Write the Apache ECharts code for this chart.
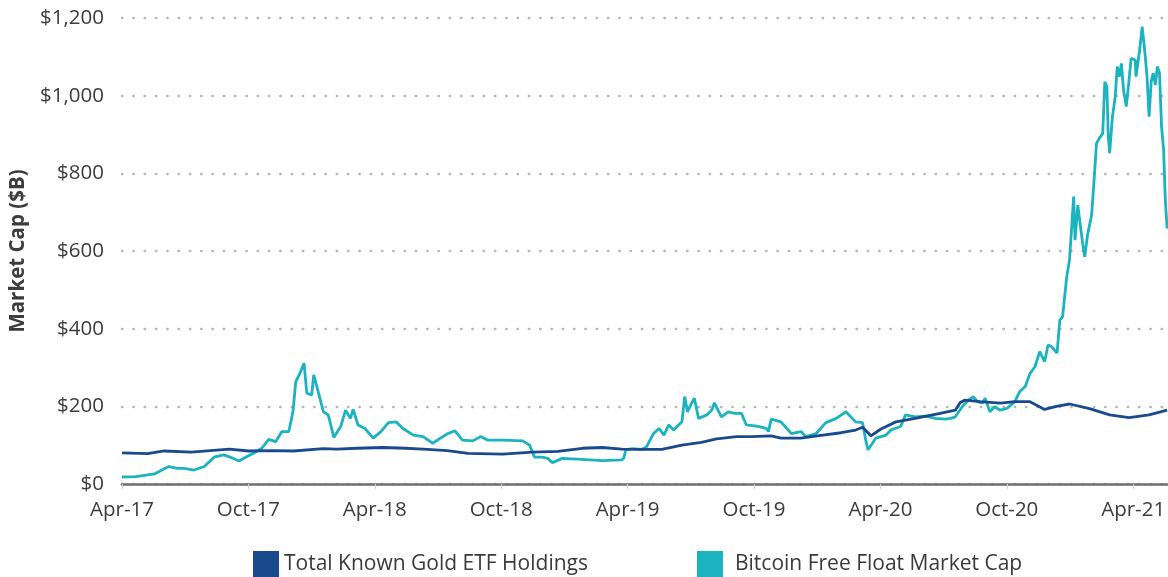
<!DOCTYPE html>
<html>
<head>
<meta charset="utf-8">
<script src="https://cdn.jsdelivr.net/npm/echarts@6/dist/echarts.min.js"></script>
<style>
html,body{margin:0;padding:0;background:#fff;}
#chart{width:1168px;height:577px;}
</style>
</head>
<body>
<div id="chart"></div>
<script>
// x values: days since 2017-04-01
const xTickLabels = ['Apr-17','Oct-17','Apr-18','Oct-18','Apr-19','Oct-19','Apr-20','Oct-20','Apr-21'];
const yTicks = [0, 200, 400, 600, 800, 1000, 1200];

const goldDays = [0,37,61,100,155,183,220,248,291,310,340,377,410,435,470,500,550,593,630,665,694,722,750,780,809,837,859,888,909,938,952,981,1010,1039,1060,1070,1082,1096,1118,1146,1182,1204,1211,1218,1240,1269,1290,1312,1333,1350,1369,1398,1427,1455,1484,1510];
const goldValues = [80,78,85,82,90,85,86,85,91,90,92,94,92,90,86,79,77,82,84,92,94,90,89,89,100,107,116,122,122,124,118,118,125,132,139,146,124,141,160,169,182,190,210,216,212,208,212,212,192,200,206,194,178,171,178,190];

const btcDays = [0,20,47,61,68,80,90,104,119,133,147,158,169,180,190,202,212,222,231,241,247,251,257,263,267,274,277,284,291,298,306,316,323,330,334,341,351,363,374,385,396,406,421,435,449,460,471,481,492,507,518,528,550,579,589,596,607,615,622,636,658,694,722,725,728,737,751,758,768,776,783,790,797,809,813,817,823,827,833,845,852,856,866,876,885,895,902,917,931,934,938,952,967,981,988,1003,1017,1032,1046,1060,1070,1075,1078,1089,1104,1111,1125,1132,1146,1161,1175,1190,1197,1204,1214,1223,1230,1236,1243,1247,1254,1261,1269,1279,1290,1297,1305,1312,1319,1326,1333,1338,1343,1351,1355,1359,1365,1369,1375,1377,1381,1384,1388,1391,1395,1401,1405,1408,1412,1417,1420,1423,1425,1427,1431,1435,1438,1441,1444,1447,1451,1455,1458,1464,1465,1470,1474,1476,1478,1481,1484,1487,1490,1493,1496,1499,1502,1505,1507,1508,1510];
const btcValues = [18,19,26,39,45,40,40,36,45,69,75,68,59,70,79,92,115,109,135,135,186,263,285,311,234,229,281,234,186,178,120,148,190,169,192,152,143,118,135,158,160,143,126,122,105,118,130,137,113,111,122,113,113,111,100,69,69,66,55,66,64,60,62,67,88,91,89,96,130,143,126,152,139,160,225,186,208,221,169,178,190,209,173,186,182,182,152,149,143,135,167,160,130,135,122,130,158,169,186,160,158,109,88,118,126,139,148,178,173,175,169,167,169,173,199,216,225,212,208,221,186,199,190,195,212,238,251,285,302,341,315,358,354,337,422,431,534,577,740,628,718,675,620,585,641,693,796,877,890,903,1036,1023,895,852,946,997,1075,1049,1083,1015,972,1040,1096,1092,1049,1113,1178,1182,1109,1049,946,1036,1058,1028,1075,1058,920,860,750,714,658];

const X_INTERVAL = 182.625;
const X_MAX = 1510;

function pairs(xs, ys){ return xs.map((x,i)=>[x, ys[i]]); }

const chart = echarts.init(document.getElementById('chart'), null, {renderer:'canvas'});
const FONT = '"Open Sans", "Noto Sans", sans-serif';
const GOLD = '#1a4a8e';
const BTC = '#1bb3bf';

chart.setOption({
  animation: false,
  backgroundColor: '#fff',
  textStyle: {fontFamily: FONT},
  grid: {left: 117.5, right: 0, top: 18, bottom: 93, containLabel: false},
  legend: [
    {left: 253, top: 551, padding: 0, itemWidth: 26, itemHeight: 26, icon: 'rect', itemGap: 0,
     textStyle: {fontSize: 21, color: '#3a3a3a', fontFamily: FONT},
     data: ['Total Known Gold ETF Holdings']},
    {left: 697, top: 551, padding: 0, itemWidth: 26, itemHeight: 26, icon: 'rect', itemGap: 0,
     textStyle: {fontSize: 21, color: '#3a3a3a', fontFamily: FONT, padding: [0,0,0,7]},
     data: ['Bitcoin Free Float Market Cap']}
  ],
  xAxis: {
    type: 'value',
    min: 0, max: X_MAX, interval: X_INTERVAL,
    axisLine: {show: true, lineStyle: {color: '#6e6e6e', width: 2.5}},
    axisTick: {show: true, length: 5, lineStyle: {color: '#d0d0d0', width: 1}},
    splitLine: {show: false},
    axisLabel: {
      fontSize: 20.5, color: '#3c3c3c', margin: 16, fontFamily: FONT,
      showMaxLabel: false,
      formatter: function(v){
        const k = Math.round(v / X_INTERVAL);
        if (Math.abs(k * X_INTERVAL - v) > 1) return '';
        return xTickLabels[k] || '';
      }
    }
  },
  yAxis: {
    type: 'value',
    min: 0, max: 1200, interval: 200,
    name: 'Market Cap ($B)',
    nameLocation: 'middle', nameRotate: 90, nameGap: 93,
    nameTextStyle: {fontSize: 20.5, fontWeight: 'bold', color: '#3c3c3c', fontFamily: FONT},
    axisLine: {show: false},
    axisTick: {show: false},
    axisLabel: {
      fontSize: 20.5, color: '#3c3c3c', margin: 18, fontFamily: FONT,
      formatter: function(v){ return '$' + v.toLocaleString('en-US'); }
    },
    splitLine: {show: true, lineStyle: {color: '#b8b8b8', width: 2.4, type: [0.5, 10.8], cap: 'round'}}
  },
  series: [
    {name: 'Total Known Gold ETF Holdings', type: 'line', data: pairs(goldDays, goldValues),
     showSymbol: false, symbol: 'none', color: GOLD, lineStyle: {width: 2.8, color: GOLD}, z: 3},
    {name: 'Bitcoin Free Float Market Cap', type: 'line', data: pairs(btcDays, btcValues),
     showSymbol: false, symbol: 'none', color: BTC, lineStyle: {width: 2.8, color: BTC}, z: 2}
  ]
});
</script>
</body>
</html>
